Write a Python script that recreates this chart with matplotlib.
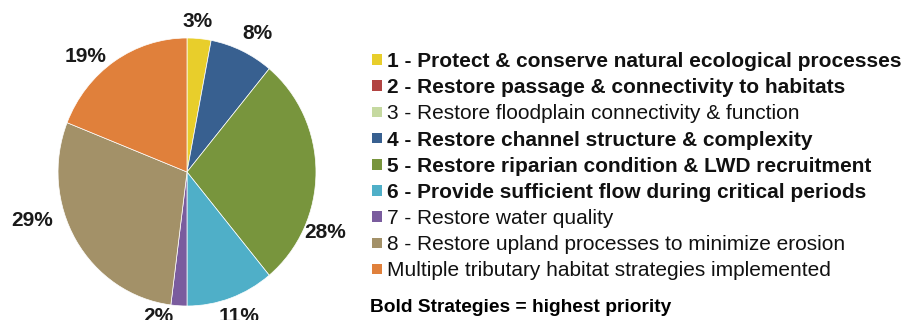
import matplotlib
matplotlib.use("Agg")
import matplotlib.pyplot as plt
from matplotlib.patches import Patch

plt.rcParams['font.family'] = ['Liberation Sans', 'DejaVu Sans']

strategies = [
    "1 - Protect & conserve natural ecological processes",
    "2 - Restore passage & connectivity to habitats",
    "3 - Restore floodplain connectivity & function",
    "4 - Restore channel structure & complexity",
    "5 - Restore riparian condition & LWD recruitment",
    "6 - Provide sufficient flow during critical periods",
    "7 - Restore water quality",
    "8 - Restore upland processes to minimize erosion",
    "Multiple tributary habitat strategies implemented",
]
percent = [3, 0, 0, 8, 28, 11, 2, 29, 19]
high_priority = [True, True, False, True, True, True, False, False, False]
colors = ["#E8CE2B", "#B24442", "#C5D9A0", "#386090", "#78953D",
          "#4FAFC8", "#7A5C9E", "#A39168", "#E0803B"]

# label offsets (x, y) from pie centre, in pie-radius units
label_pos = [(0.08, 1.12), None, None, (0.55, 1.03), (1.07, -0.45),
             (0.40, -1.08), (-0.22, -1.08), (-1.20, -0.36), (-0.79, 0.86)]

fig = plt.figure(figsize=(9.11, 3.2), dpi=100)
ax = fig.add_axes([0, 0, 374 / 911, 1])

shown = [i for i, v in enumerate(percent) if v > 0]
wedges, _ = ax.pie([percent[i] for i in shown],
                   colors=[colors[i] for i in shown],
                   startangle=90, counterclock=False,
                   wedgeprops=dict(edgecolor="white", linewidth=0.5))
ax.set_aspect("auto")
ax.set_xlim(-1.45, 1.45)
ax.set_ylim(-148 / 134, 172 / 134)

for i in shown:
    x, y = label_pos[i]
    ax.text(x, y, f"{percent[i]}%", ha="center", va="center",
            fontsize=15, fontweight="bold", color="#1a1a1a")

handles = [Patch(facecolor=c, edgecolor="none") for c in colors]
leg = fig.legend(handles, strategies, loc="upper left",
                 bbox_to_anchor=(372 / 911, 1 - 52 / 320),
                 frameon=False, fontsize=15, handlelength=0.48,
                 handleheight=0.41, handletextpad=0.24, labelspacing=0.345,
                 borderaxespad=0, borderpad=0)
for txt, bold in zip(leg.get_texts(), high_priority):
    txt.set_fontweight("bold" if bold else "normal")
    txt.set_color("#111111")

fig.text(370 / 911, 1 - 308 / 320, "Bold Strategies = highest priority",
         fontsize=13.8, fontweight="bold", va="center", ha="left")

fig.savefig("out.png", dpi=100)
